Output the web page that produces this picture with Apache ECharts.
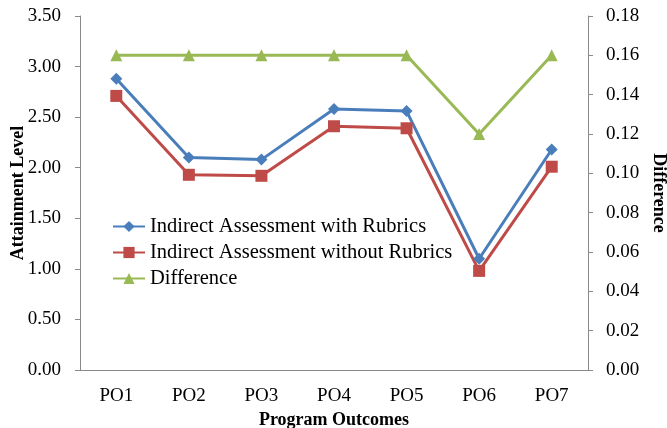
<!DOCTYPE html>
<html>
<head>
<meta charset="utf-8">
<script src="https://cdn.jsdelivr.net/npm/echarts@6/dist/echarts.min.js"></script>
<style>
  html, body { margin: 0; padding: 0; background: #fff; }
  #chart { width: 667px; height: 428px; }
</style>
</head>
<body>
<div id="chart"></div>
<script>
const categories = ['PO1', 'PO2', 'PO3', 'PO4', 'PO5', 'PO6', 'PO7'];
const withRubrics = [2.88, 2.10, 2.08, 2.58, 2.56, 1.10, 2.18];
const withoutRubrics = [2.71, 1.93, 1.92, 2.41, 2.39, 0.98, 2.01];
const difference = [0.16, 0.16, 0.16, 0.16, 0.16, 0.12, 0.16];

const font = 'Liberation Serif';
const axisGrey = '#898989';

const chart = echarts.init(document.getElementById('chart'));

chart.setOption({
  backgroundColor: '#ffffff',
  animation: false,
  textStyle: { fontFamily: font },
  grid: { left: 80, right: 79, top: 16, bottom: 58, outerBoundsMode: 'none' },
  legend: {
    orient: 'vertical',
    left: 112,
    top: 216,
    padding: 0,
    itemWidth: 32,
    itemHeight: 14,
    itemGap: 5,
    textStyle: { fontFamily: font, fontSize: 20.5, lineHeight: 21, color: '#000' },
    data: ['Indirect Assessment with Rubrics', 'Indirect Assessment without Rubrics', 'Difference']
  },
  xAxis: {
    type: 'category',
    data: categories,
    boundaryGap: true,
    name: 'Program Outcomes',
    nameLocation: 'middle',
    nameGap: 39,
    nameTextStyle: { fontFamily: font, fontSize: 18, fontWeight: 'bold', color: '#000' },
    axisLine: { lineStyle: { color: axisGrey, width: 1 } },
    axisTick: { alignWithLabel: true, length: 5, lineStyle: { color: axisGrey } },
    axisLabel: { fontFamily: font, fontSize: 19, color: '#000', margin: 17 }
  },
  yAxis: [
    {
      type: 'value',
      min: 0,
      max: 3.5,
      interval: 0.5,
      name: 'Attainment Level',
      nameLocation: 'middle',
      nameGap: 53,
      nameMoveOverlap: false,
      nameTextStyle: { fontFamily: font, fontSize: 18, fontWeight: 'bold', color: '#000' },
      splitLine: { show: false },
      axisLine: { show: true, lineStyle: { color: axisGrey } },
      axisTick: { show: true, length: 5, lineStyle: { color: axisGrey } },
      axisLabel: {
        fontFamily: font, fontSize: 19, color: '#000', margin: 19,
        formatter: v => v.toFixed(2)
      }
    },
    {
      type: 'value',
      position: 'right',
      min: 0,
      max: 0.18,
      interval: 0.02,
      name: 'Difference',
      nameLocation: 'middle',
      nameGap: 62,
      nameRotate: -90,
      nameTextStyle: { fontFamily: font, fontSize: 18, fontWeight: 'bold', color: '#000' },
      splitLine: { show: false },
      axisLine: { show: true, lineStyle: { color: axisGrey } },
      axisTick: { show: true, length: 5, lineStyle: { color: axisGrey } },
      axisLabel: {
        fontFamily: font, fontSize: 19, color: '#000', margin: 18,
        formatter: v => v.toFixed(2)
      }
    }
  ],
  series: [
    {
      name: 'Indirect Assessment with Rubrics',
      type: 'line',
      data: withRubrics,
      yAxisIndex: 0,
      symbol: 'diamond',
      symbolSize: 12,
      color: '#4a7ebb',
      lineStyle: { width: 3 }
    },
    {
      name: 'Indirect Assessment without Rubrics',
      type: 'line',
      data: withoutRubrics,
      yAxisIndex: 0,
      symbol: 'rect',
      symbolSize: 12,
      color: '#be4b48',
      lineStyle: { width: 3 }
    },
    {
      name: 'Difference',
      type: 'line',
      data: difference,
      yAxisIndex: 1,
      symbol: 'triangle',
      symbolSize: 12,
      color: '#98b954',
      lineStyle: { width: 3 }
    }
  ]
});
</script>
</body>
</html>
